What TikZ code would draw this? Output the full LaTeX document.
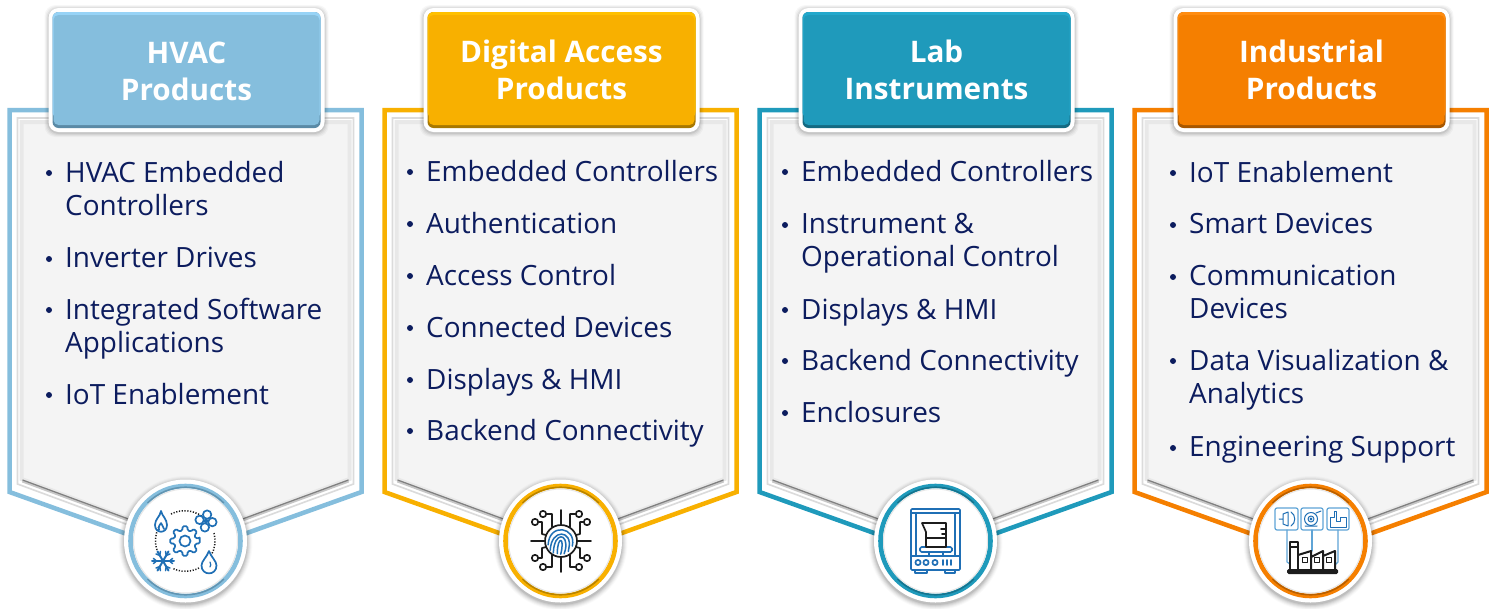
\documentclass[tikz,border=0pt]{standalone}
\usepackage{fontspec}
\setmainfont{Open Sans}
\definecolor{navy}{HTML}{0C1C5E}
\definecolor{icoblue}{HTML}{1F6FB5}
\definecolor{icoline}{HTML}{5FA4D6}
\definecolor{icoblack}{HTML}{1C1C1C}
\definecolor{panelfill}{HTML}{F4F4F4}
\definecolor{hvM}{HTML}{85BEDD}\definecolor{hvL}{HTML}{97D3F6}\definecolor{hvD}{HTML}{5A8AA6}
\definecolor{daM}{HTML}{F8B000}\definecolor{daL}{HTML}{FFC000}\definecolor{daD}{HTML}{A87800}
\definecolor{laM}{HTML}{1F9ABB}\definecolor{laL}{HTML}{22A8CC}\definecolor{laD}{HTML}{146A82}
\definecolor{inM}{HTML}{F57F00}\definecolor{inL}{HTML}{FF8C10}\definecolor{inD}{HTML}{A85700}
\tikzset{
  x=1pt,y=-1pt,
  headtext/.style={font=\fontsize{29.7}{37}\selectfont\bfseries,text=white,align=center,inner sep=0pt},
  itemtext/.style={font=\fontsize{27.9}{33}\selectfont,text=navy,align=left,inner sep=0pt,anchor=north west},
  ico/.style={draw=icoblue,line width=1.7pt,line cap=round,line join=round},
  icok/.style={draw=icoblack,line width=1.7pt,line cap=round,line join=round},
  icol/.style={draw=icoline,line width=1.2pt,line cap=round,line join=round},
}
% panel: id, centre x, colour prefix, header text, header y
\newcommand{\panelshape}[5]{%
  \begin{scope}[shift={(#2,0)}]
    % outer outline
    \draw[#3M,line width=4.5pt,fill=white,miter limit=10] (-176,110) -- (176,110) -- (176,492) -- (0,555) -- (-176,492) -- cycle;
    % bevel
    \draw[black!14,line width=1.6pt,fill=white] (-168,118) -- (168,118) -- (168,484) -- (0,546) -- (-168,484) -- cycle;
    \draw[black!9,line width=4pt,fill=panelfill] (-164,122) -- (164,122) -- (164,479) -- (0,540) -- (-164,479) -- cycle;
    \draw[black!22,line width=3pt] (-163,481) -- (0,541) -- (163,481);
    \draw[black!50,line width=1.2pt] (-163,480) -- (0,540) -- (163,480);
    % header
    \foreach \s/\o in {4/.03,3/.04,2/.05,1/.07}{
      \fill[black,opacity=\o,rounded corners=11pt] (-137-\s,8-\s+1) rectangle (139+\s,133+\s);}
    \fill[white,rounded corners=10pt] (-137,8) rectangle (139,132);
    \fill[#3D,rounded corners=6pt] (-133,12) rectangle (135,128);
    \fill[#3L,rounded corners=6pt] (-133,12) rectangle (135,118);
    \node[rectangle,rounded corners=5pt,fill=#3M,minimum width=266pt,minimum height=110pt,inner sep=0pt] (head#1) at (1,70) {};
    \node[headtext] (title#1) at (1,#5) {#4};
    % medallion
    \foreach \s/\o in {6/.02,5/.03,4/.04,3/.05,2/.06,1/.08}{
      \fill[black,opacity=\o] (0,543) circle ({61+\s});}
    \fill[white] (0,541) circle (61.5);
    \draw[#3M,line width=4.6pt] (0,541) circle (55);
    \draw[#3D,line width=1.5pt,opacity=.8] (-38,503) arc[start angle=225,end angle=315,radius=54];
    \draw[#3D,line width=1.5pt,opacity=.8] (-38,579) arc[start angle=135,end angle=45,radius=54];
    \draw[black!10,line width=1pt,fill=white] (0,541) circle (52);
  \end{scope}}
\newcommand{\itm}[4]{%
  \fill[navy] (#2-16,#3-9) circle (3);
  \node[itemtext] (#1) at (#2,#3-21) {#4};}
% teardrop
\newcommand{\tear}[3]{% cx, top y, style
  \draw[#3] (#1,#2) .. controls (#1+2,#2+6) and (#1+7.5,#2+10) .. (#1+7.5,#2+14.5)
     .. controls (#1+7.5,#2+25) and (#1-7.5,#2+25) .. (#1-7.5,#2+14.5)
     .. controls (#1-7.5,#2+10) and (#1-2,#2+6) .. (#1,#2);}
\begin{document}
\begin{tikzpicture}
\useasboundingbox (0,0) rectangle (1497,608);
\fill[white] (0,0) rectangle (1497,608);

\panelshape{A}{185.5}{hv}{HVAC\\Products}{71}
\panelshape{B}{560.5}{da}{Digital Access\\Products}{70}
\panelshape{C}{935.5}{la}{Lab\\Instruments}{69.5}
\panelshape{D}{1310.5}{in}{Industrial\\Products}{69.5}

% lists
\itm{a1}{65}{182}{HVAC Embedded\\Controllers}
\itm{a2}{65}{268}{Inverter Drives}
\itm{a3}{65}{319}{Integrated Software\\Applications}
\itm{a4}{65}{404}{IoT Enablement}

\itm{b1}{426}{181}{Embedded Controllers}
\itm{b2}{426}{233}{Authentication}
\itm{b3}{426}{285}{Access Control}
\itm{b4}{426}{337}{Connected Devices}
\itm{b5}{426}{389}{Displays \& HMI}
\itm{b6}{426}{440}{Backend Connectivity}

\itm{c1}{801}{181}{Embedded Controllers}
\itm{c2}{801}{234}{Instrument \&\\Operational Control}
\itm{c3}{801}{319}{Displays \& HMI}
\itm{c4}{801}{370}{Backend Connectivity}
\itm{c5}{801}{422}{Enclosures}

\itm{d1}{1189}{182}{IoT Enablement}
\itm{d2}{1189}{234}{Smart Devices}
\itm{d3}{1189}{286}{Communication\\Devices}
\itm{d4}{1189}{370}{Data Visualization \&\\Analytics}
\itm{d5}{1189}{457}{Engineering Support}

% ---- HVAC icon
\begin{scope}[shift={(185,541)}]
  \draw[icoblack,line width=1.5pt,dash pattern=on 1.2pt off 1.6pt] (-14,-27) arc[start angle=-117,end angle=-55,radius=30];
  \draw[icoblack,line width=1.5pt,dash pattern=on 1.2pt off 1.6pt] (29,-8) arc[start angle=-15,end angle=28,radius=30];
  \draw[icoblack,line width=1.5pt,dash pattern=on 1.2pt off 1.6pt] (14,27) arc[start angle=63,end angle=115,radius=30];
  \draw[icoblack,line width=1.5pt,dash pattern=on 1.2pt off 1.6pt] (-28,9) arc[start angle=162,end angle=208,radius=30];
  % gear
  \draw[ico,rounded corners=1.2pt] (-12:15) \foreach \a in {0,45,...,315}{ -- ({\a-9}:15) -- ({\a+9}:15) -- ({\a+14}:11) -- ({\a+31}:11)} -- cycle;
  \draw[ico] (0,0) circle (5.5);
  % flame
  \draw[ico] (-24,-30) .. controls (-23,-25) and (-18,-22) .. (-18,-16) .. controls (-18,-7) and (-30,-7) .. (-30,-16) .. controls (-30,-22) and (-25,-24) .. (-24,-30);
  \draw[ico] (-24,-18) .. controls (-23,-15) and (-21,-14) .. (-21,-12) (-24,-18) .. controls (-25,-16) and (-27,-15) .. (-26,-11);
  % fan
  \foreach \a in {10,100,190,280}{ \draw[ico,fill=white] (21,-20)++(\a:6.5) circle (4.2);}
  \draw[ico,fill=white] (21,-20) circle (1.6);
  % snowflake
  \foreach \a in {0,60,120}{
    \draw[ico,line width=2pt] (-22,20)++(\a:11) -- ++(\a+180:22);}
  \foreach \a in {0,60,...,300}{
    \draw[ico,line width=1.5pt] (-22,20)++(\a:6.5) -- ++(\a+40:4) (-22,20)++(\a:6.5) -- ++(\a-40:4);}
  % drop
  \tear{24}{10}{ico}
  \draw[ico,line width=1.2pt] (25,21) .. controls (26,23) and (26,25) .. (25,26);
\end{scope}

% ---- fingerprint icon
\begin{scope}[shift={(561,541)}]
  \draw[icok] (0,0) circle (16);
  \draw[icok] (0,-31) -- (0,-16) (0,31) -- (0,16) (-30,0) -- (-16,0) (30,0) -- (16,0);
  \foreach \sx in {-1,1}{
    \draw[icok] (\sx*18,-27) circle (3.2) (\sx*15,-27) -- (\sx*9,-27) -- (\sx*9,-14);
    \draw[icok] (\sx*26,-19) circle (3.2) (\sx*23,-19) -- (\sx*19,-19) -- (\sx*19,-7) -- (\sx*15,-6);
    \draw[icok] (\sx*26,17) circle (3.2) (\sx*23,17) -- (\sx*19,17) -- (\sx*19,7) -- (\sx*15,6);
    \draw[icok] (\sx*18,26) circle (3.2) (\sx*15,26) -- (\sx*9,26) -- (\sx*9,14);
  }
  \begin{scope}[rotate=-10]
  \draw[ico,line width=1.5pt] (-12,6) .. controls (-15,-16) and (13,-17) .. (12,3);
  \draw[ico,line width=1.5pt] (-9,11) .. controls (-12,-11) and (10,-13) .. (9,6) -- (9,9);
  \draw[ico,line width=1.5pt] (-5.5,13) .. controls (-8.5,-9) and (6.5,-9) .. (5.8,8) -- (5.3,12);
  \draw[ico,line width=1.5pt] (-1.5,13) .. controls (-4.5,-5) and (3.5,-5) .. (2,13);
  \end{scope}
\end{scope}

% ---- lab icon
\begin{scope}[shift={(935,541)}]
  \draw[ico,rounded corners=1pt] (-24,29) -- (-24,-32) -- (25,-32) -- (25,29) -- cycle;
  \draw[ico] (-24,-28) -- (25,-28);
  \draw[ico] (-19,-28) -- (-19,15) (20,-28) -- (20,15);
  \draw[ico] (-24,15) -- (25,15);
  \draw[ico,rounded corners=1.5pt] (-15,6) rectangle (17,11);
  \draw[ico] (-6,11) -- (-6,15) (8,11) -- (8,15);
  \draw[ico] (-20,29) -- (-20,32) -- (-8,32) -- (-8,29);
  \draw[ico] (10,29) -- (10,32) -- (20,32) -- (20,29);
  \foreach \cx in {-17,-9,0}{ \draw[ico] (\cx,21.5) circle (2.6);}
  \foreach \cx in {8,12,16}{ \draw[ico] (\cx,19) -- (\cx,24);}
  \draw[icok] (-13,-18) -- (11,-18) -- (11,6) -- (-9,6) -- (-9,-9) -- cycle;
  \draw[icok] (-9,-3) -- (11,-3);
  \draw[icok] (6,-12) -- (11,-12) (7,-7) -- (11,-7);
\end{scope}

% ---- industrial icon
\begin{scope}[shift={(1310,541)}]
  \draw[icol,rounded corners=2pt] (-35,-33) rectangle (-12,-11);
  \draw[icol,rounded corners=2pt] (-9,-33) rectangle (13,-11);
  \draw[icol,rounded corners=2pt] (17,-33) rectangle (39,-11);
  \draw[icol] (-23,-11) -- (-23,21) -- (-20,23);
  \draw[icol] (2,-11) -- (2,10);
  \draw[icol] (28,-11) -- (28,21) -- (25,24);
  % small machines
  \draw[ico,line width=1pt] (-31,-22) -- (-27,-22) (-27,-27) -- (-22,-29) -- (-22,-15) -- (-27,-17) -- cycle;
  \draw[ico,line width=1pt] (-19,-29) .. controls (-14,-26) and (-14,-18) .. (-19,-15);
  \draw[ico,line width=1pt] (1,-22) circle (6.5) (1,-22) circle (3) (1,-22) circle (1);
  \draw[ico,line width=1pt] (6,-28) -- (11,-30) (-5,-15) -- (7,-15);
  \draw[ico,line width=1pt] (20,-14) -- (20,-24) -- (24,-24) -- (24,-30) -- (26,-30) -- (26,-20) -- (30,-20) -- (30,-24) -- (36,-24) -- (36,-14) -- cycle;
  % factory
  \fill[icoblack,rounded corners=1.5pt] (-23,28) rectangle (28,33);
  \draw[icok,line width=2pt] (-20,28) -- (-20,1) -- (-12,1) -- (-12,28) (-20,6) -- (-12,6);
  \draw[icok,line width=2pt] (-12,14) -- (1,10) -- (1,28) (1,16) -- (13,10) -- (13,28) (13,15) -- (25,10) -- (25,28);
  \foreach \cx in {-5,7,19}{ \draw[icok,line width=1.6pt] (\cx-2.6,16.5) rectangle (\cx+2.6,21.5);}
\end{scope}
\end{tikzpicture}
\end{document}
